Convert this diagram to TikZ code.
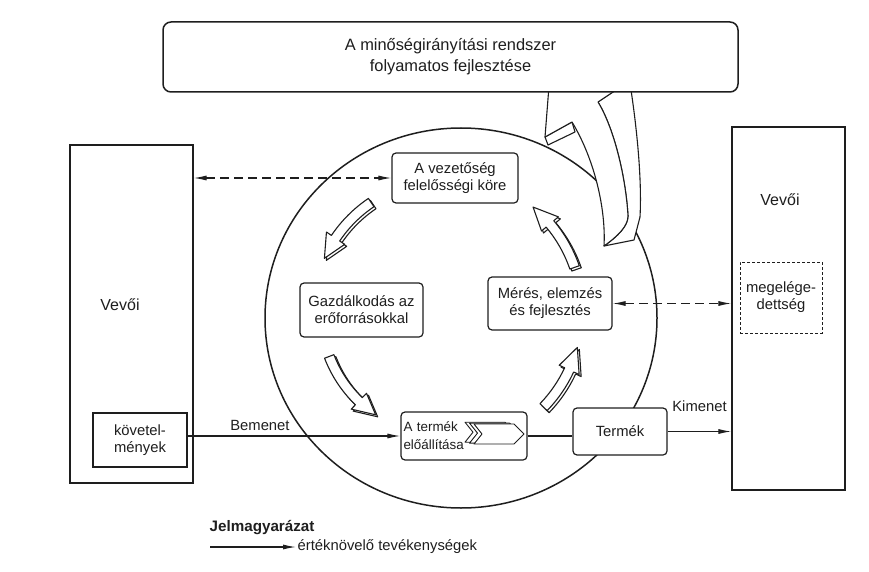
\documentclass[tikz,border=0pt]{standalone}
\usepackage{fontspec}
\setmainfont{Liberation Sans}
\usepackage{tikz}
\usetikzlibrary{arrows.meta,positioning,calc}
\definecolor{qmsInk}{HTML}{1E1E1E}
\definecolor{qmsPaper}{HTML}{FFFFFF}
\tikzset{
  qmsproc/.style={draw=qmsInk,line width=1.2pt,fill=qmsPaper,text=qmsInk,rounded corners=4pt,
              align=center,inner sep=2pt,font=\fontsize{14.8}{17}\selectfont},
  qmscust/.style={qmsproc,rounded corners=0pt},
  qmssat/.style={qmscust,line width=0.9pt,dash pattern=on 3pt off 2pt},
  qmstitle/.style={qmsproc,line width=1.5pt,rounded corners=8pt,font=\fontsize{16.4}{21}\selectfont},
  qmsflow/.style={-{Latex[length=13pt,width=5pt]},draw=qmsInk,line width=1.1pt},
  qmsback/.style={qmsflow,{Latex[length=13pt,width=5pt]}-{Latex[length=13pt,width=5pt]},dash pattern=on 9pt off 5pt},
  qmslbl/.style={font=\fontsize{14.8}{17}\selectfont,text=qmsInk,inner sep=1.5pt},
  qmscyc/.style={draw=qmsInk,line width=1.1pt,fill=qmsPaper,line join=round},
}

\begin{document}
\begin{tikzpicture}[x=1pt,y=-1pt]
  \useasboundingbox (0,0) rectangle (869,572);
  % the process circle
  \draw[qmsInk,line width=1.5pt] (461,318) ellipse[x radius=196,y radius=190];

  % big arrow up to the improvement box
  \filldraw[qmscyc] (545,137) -- (548,145) -- (575,132) -- (572,122) -- cycle;
  \filldraw[qmscyc] (622,86) -- (631,90) .. controls (637,130) and (642,180) .. (640,217) -- (634,240) -- (604,246)
        .. controls (618,236) and (628,226) .. (628,216) .. controls (626,180) and (615,130) .. (598,102) -- cycle;
  \filldraw[qmscyc] (604,246) .. controls (606,210) and (595,160) .. (572,122) -- (545,137) -- (549,86) -- (622,86) -- (598,102)
        .. controls (615,130) and (626,180) .. (628,216) .. controls (628,226) and (618,236) .. (604,246) -- cycle;

  \node[qmstitle,minimum width=575pt,minimum height=70pt] (T) at (450.5,57) {A minőségirányítási rendszer\\folyamatos fejlesztése};

  \node[qmsproc,minimum width=126pt,minimum height=50pt] (vez) at (455,178) {A vezetőség\\felelősségi köre};
  \node[qmsproc,minimum width=123pt,minimum height=54pt] (gaz) at (361.5,310) {Gazdálkodás az\\erőforrásokkal};
  \node[qmsproc,minimum width=124pt,minimum height=53pt] (mer) at (550,303.5) {Mérés, elemzés\\és fejlesztés};
  \node[qmsproc,minimum width=126pt,minimum height=48pt,text width=121pt,align=left,
        font=\fontsize{13.4}{18}\selectfont] (elo) at (464,436) {A termék\\előállítása};
  \node[qmsproc,minimum width=94pt,minimum height=47pt] (ter) at (620,431.5) {Termék};

  \node[qmscust,minimum width=123pt,minimum height=338pt] (vevL) at (131.5,314) {};
  \node[qmscust,minimum width=113pt,minimum height=363pt] (vevR) at (788.5,308.5) {};
  \node[qmslbl,font=\fontsize{16}{19}\selectfont] (vevLt) at (120,305) {Vevői};
  \node[qmslbl,font=\fontsize{16}{19}\selectfont] (vevRt) at (780,200) {Vevői};
  \node[qmscust,minimum width=94pt,minimum height=54pt] (kov) at (140,440) {követel-\\mények};
  \node[qmssat,minimum width=82pt,minimum height=71pt] (meg) at (781,297.5) {megelége-\\dettség};

  % value-adding chevrons
  \foreach \o in {9,4.5,0}{
    \filldraw[qmscyc,line width=0.9pt,shift={(-\o,-\o/5)}] (474,424) -- (514,424) -- (524,434) -- (514,444) -- (474,444) -- (482,434) -- cycle;
  }

  % cycle arrows
  \foreach \s/\e/\r in {-124/-156/132,-19/-50/137,-201/-236/124,-316/-345/137}{
    \foreach \o in {2,0}{
      \filldraw[qmscyc,shift={(445+\o,312+\o)}] (\s:\r+5) arc[start angle=\s,end angle=\e+10,radius=\r+5]
        -- (\e+10:\r+11) -- (\e:\r) -- (\e+10:\r-11) -- (\e+10:\r-5)
        arc[start angle=\e+10,end angle=\s,radius=\r-5] -- cycle;
    }
  }

  \draw[qmsback] (vevL.east |- vez.west) -- (vez.west);
  \draw[qmsback] (mer.east) -- (mer.east -| vevR.west);
  \draw[qmsflow] (kov.east |- elo.west) -- node[qmslbl,above=3pt,pos=0.34]{Bemenet} (elo.west);
  \draw[qmsInk,line width=1.1pt] (elo.east) -- (elo.east -| ter.west);
  \draw[qmsflow] (ter.east) -- node[qmslbl,above=18pt]{Kimenet} (ter.east -| vevR.west);

  \node[qmslbl,anchor=west,font=\fontsize{15.2}{18}\selectfont\bfseries] (leg) at (208,528) {Jelmagyarázat};
  \coordinate (legA) at (210,547);
  \node[qmslbl,anchor=west] (legt) at (296,547) {értéknövelő tevékenységek};
  \draw[qmsflow] (legA) -- (legt.west);
\end{tikzpicture}
\end{document}
